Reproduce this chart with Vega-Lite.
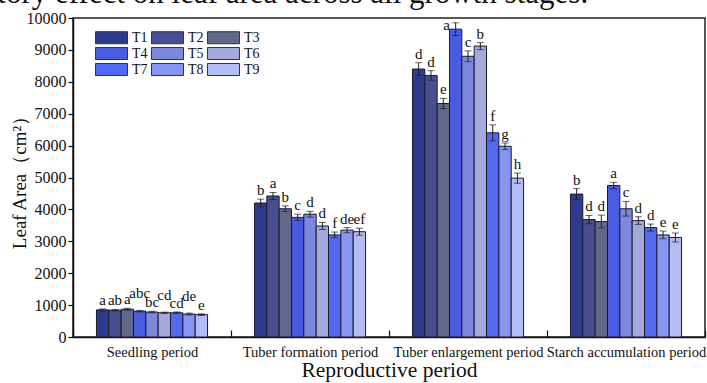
{
  "$schema": "https://vega.github.io/schema/vega-lite/v6.json",
  "width": 632,
  "height": 319,
  "autosize": {"type": "none"},
  "padding": {"left": 73, "top": 18, "right": 2, "bottom": 46},
  "background": "white",
  "title": {
    "text": "latory effect on leaf area across all growth stages.",
    "anchor": "start",
    "frame": "group",
    "baseline": "alphabetic",
    "offset": 6,
    "dy": 30,
    "dx": -98,
    "font": "Liberation Serif",
    "fontSize": 31,
    "fontWeight": "normal",
    "color": "#111"
  },
  "data": {
    "values": [
      {"period": "Seedling period", "treatment": "T1", "value": 850, "err": 30, "letter": "a"},
      {"period": "Seedling period", "treatment": "T2", "value": 840, "err": 25, "letter": "ab"},
      {"period": "Seedling period", "treatment": "T3", "value": 870, "err": 30, "letter": "a"},
      {"period": "Seedling period", "treatment": "T4", "value": 810, "err": 25, "letter": "abc"},
      {"period": "Seedling period", "treatment": "T5", "value": 780, "err": 25, "letter": "bc"},
      {"period": "Seedling period", "treatment": "T6", "value": 760, "err": 20, "letter": "cd"},
      {"period": "Seedling period", "treatment": "T7", "value": 760, "err": 25, "letter": "cd"},
      {"period": "Seedling period", "treatment": "T8", "value": 720, "err": 30, "letter": "de"},
      {"period": "Seedling period", "treatment": "T9", "value": 700, "err": 25, "letter": "e"},
      {"period": "Tuber formation period", "treatment": "T1", "value": 4200, "err": 120, "letter": "b"},
      {"period": "Tuber formation period", "treatment": "T2", "value": 4420, "err": 110, "letter": "a"},
      {"period": "Tuber formation period", "treatment": "T3", "value": 4020, "err": 90, "letter": "b"},
      {"period": "Tuber formation period", "treatment": "T4", "value": 3750, "err": 100, "letter": "c"},
      {"period": "Tuber formation period", "treatment": "T5", "value": 3850, "err": 90, "letter": "d"},
      {"period": "Tuber formation period", "treatment": "T6", "value": 3480, "err": 110, "letter": "d"},
      {"period": "Tuber formation period", "treatment": "T7", "value": 3200, "err": 90, "letter": "f"},
      {"period": "Tuber formation period", "treatment": "T8", "value": 3350, "err": 80, "letter": "de"},
      {"period": "Tuber formation period", "treatment": "T9", "value": 3300, "err": 110, "letter": "ef"},
      {"period": "Tuber enlargement period", "treatment": "T1", "value": 8400, "err": 200, "letter": "d"},
      {"period": "Tuber enlargement period", "treatment": "T2", "value": 8200, "err": 150, "letter": "d"},
      {"period": "Tuber enlargement period", "treatment": "T3", "value": 7320, "err": 160, "letter": "e"},
      {"period": "Tuber enlargement period", "treatment": "T4", "value": 9650, "err": 200, "letter": "a"},
      {"period": "Tuber enlargement period", "treatment": "T5", "value": 8800, "err": 170, "letter": "c"},
      {"period": "Tuber enlargement period", "treatment": "T6", "value": 9120, "err": 110, "letter": "b"},
      {"period": "Tuber enlargement period", "treatment": "T7", "value": 6400, "err": 250, "letter": "f"},
      {"period": "Tuber enlargement period", "treatment": "T8", "value": 5980, "err": 100, "letter": "g"},
      {"period": "Tuber enlargement period", "treatment": "T9", "value": 4980, "err": 160, "letter": "h"},
      {"period": "Starch accumulation period", "treatment": "T1", "value": 4480, "err": 170, "letter": "b"},
      {"period": "Starch accumulation period", "treatment": "T2", "value": 3680, "err": 130, "letter": "d"},
      {"period": "Starch accumulation period", "treatment": "T3", "value": 3620, "err": 200, "letter": "d"},
      {"period": "Starch accumulation period", "treatment": "T4", "value": 4750, "err": 100, "letter": "a"},
      {"period": "Starch accumulation period", "treatment": "T5", "value": 4020, "err": 230, "letter": "c"},
      {"period": "Starch accumulation period", "treatment": "T6", "value": 3650, "err": 120, "letter": "d"},
      {"period": "Starch accumulation period", "treatment": "T7", "value": 3430, "err": 110, "letter": "d"},
      {"period": "Starch accumulation period", "treatment": "T8", "value": 3200, "err": 120, "letter": "e"},
      {"period": "Starch accumulation period", "treatment": "T9", "value": 3120, "err": 140, "letter": "e"}
    ]
  },
  "transform": [
    {"calculate": "datum.value - datum.err", "as": "lo"},
    {"calculate": "datum.value + datum.err", "as": "hi"}
  ],
  "encoding": {
    "x": {
      "field": "period",
      "type": "nominal",
      "sort": ["Seedling period", "Tuber formation period", "Tuber enlargement period", "Starch accumulation period"],
      "scale": {"paddingInner": 0, "paddingOuter": 0},
      "axis": {
        "title": "Reproductive period",
        "titleFont": "Liberation Serif",
        "titleFontSize": 21.5,
        "titleFontWeight": "normal",
        "titleColor": "#111",
        "titlePadding": 1,
        "labelFont": "Liberation Serif",
        "labelFontSize": 14.5,
        "labelColor": "#111",
        "labelAngle": 0,
        "labelPadding": 15,
        "labelOverlap": false,
        "labelBound": false,
        "tickBand": "extent",
        "tickSize": -7,
        "tickColor": "#111",
        "tickWidth": 1.2,
        "domainColor": "#111",
        "domainWidth": 1.5
      }
    },
    "xOffset": {
      "field": "treatment",
      "type": "nominal",
      "scale": {
        "domain": ["_a", "T1", "T2", "T3", "T4", "T5", "T6", "T7", "T8", "T9", "_b"],
        "paddingInner": 0,
        "paddingOuter": 0.9
      }
    }
  },
  "layer": [
    {
      "mark": {"type": "bar", "stroke": "#1a1a2e", "strokeWidth": 1},
      "encoding": {
        "y": {
          "field": "value",
          "type": "quantitative",
          "scale": {"domain": [0, 10000]},
          "axis": {"title": "Leaf Area（cm²）", "values": [0, 1000, 2000, 3000, 4000, 5000, 6000, 7000, 8000, 9000, 10000], "format": "d", "labelOverlap": false}
        },
        "fill": {
          "field": "treatment",
          "type": "nominal",
          "scale": {
            "domain": ["T1", "T2", "T3", "T4", "T5", "T6", "T7", "T8", "T9"],
            "range": ["#2e3b8c", "#474f8f", "#62688a", "#4b5be0", "#7d87de", "#a4a9dc", "#5469f2", "#8796f2", "#b3bcf3"]
          },
          "legend": {
            "title": null,
            "orient": "none",
            "legendX": 31,
            "legendY": 12,
            "direction": "horizontal",
            "columns": 3,
            "columnPadding": 1,
            "rowPadding": -5,
            "symbolType": "M-2.29,-0.86H2.29V0.86H-2.29Z",
            "symbolSize": 196,
            "symbolStrokeColor": "#333",
            "symbolStrokeWidth": 1,
            "symbolOpacity": 1,
            "labelFont": "Liberation Serif",
            "labelFontSize": 14,
            "labelFontWeight": "normal",
            "labelColor": "#111",
            "labelOffset": 13
          }
        }
      }
    },
    {
      "mark": {"type": "rule", "color": "#222", "strokeWidth": 1},
      "encoding": {
        "y": {"field": "lo", "type": "quantitative", "axis": {"title": "Leaf Area（cm²）", "values": [0, 1000, 2000, 3000, 4000, 5000, 6000, 7000, 8000, 9000, 10000], "format": "d", "labelOverlap": false}},
        "y2": {"field": "hi"}
      }
    },
    {
      "mark": {"type": "tick", "color": "#222", "thickness": 1, "size": 7},
      "encoding": {"y": {"field": "lo", "type": "quantitative", "axis": {"title": "Leaf Area（cm²）", "values": [0, 1000, 2000, 3000, 4000, 5000, 6000, 7000, 8000, 9000, 10000], "format": "d", "labelOverlap": false}}}
    },
    {
      "mark": {"type": "tick", "color": "#222", "thickness": 1, "size": 7},
      "encoding": {"y": {"field": "hi", "type": "quantitative", "axis": {"title": "Leaf Area（cm²）", "values": [0, 1000, 2000, 3000, 4000, 5000, 6000, 7000, 8000, 9000, 10000], "format": "d", "labelOverlap": false}}}
    },
    {
      "transform": [
        {"filter": "!(datum.period === 'Seedling period' && indexof(['T4','T6','T8'], datum.treatment) >= 0) && !(datum.period === 'Tuber enlargement period' && datum.treatment === 'T4')"}
      ],
      "mark": {"type": "text", "font": "Liberation Serif", "fontSize": 15, "color": "#111", "baseline": "bottom", "dy": -1},
      "encoding": {
        "y": {"field": "hi", "type": "quantitative", "axis": {"title": "Leaf Area（cm²）", "values": [0, 1000, 2000, 3000, 4000, 5000, 6000, 7000, 8000, 9000, 10000], "format": "d", "labelOverlap": false}},
        "text": {"field": "letter"}
      }
    },
    {
      "transform": [
        {"filter": "datum.period === 'Seedling period' && indexof(['T4','T6','T8'], datum.treatment) >= 0"}
      ],
      "mark": {"type": "text", "font": "Liberation Serif", "fontSize": 15, "color": "#111", "baseline": "bottom", "dy": -9},
      "encoding": {
        "y": {"field": "hi", "type": "quantitative", "axis": {"title": "Leaf Area（cm²）", "values": [0, 1000, 2000, 3000, 4000, 5000, 6000, 7000, 8000, 9000, 10000], "format": "d", "labelOverlap": false}},
        "text": {"field": "letter"}
      }
    },
    {
      "transform": [
        {"filter": "datum.period === 'Tuber enlargement period' && datum.treatment === 'T4'"}
      ],
      "mark": {"type": "text", "font": "Liberation Serif", "fontSize": 15, "color": "#111", "baseline": "middle", "dx": -9, "dy": 2},
      "encoding": {
        "y": {"field": "hi", "type": "quantitative", "axis": {"title": "Leaf Area（cm²）", "values": [0, 1000, 2000, 3000, 4000, 5000, 6000, 7000, 8000, 9000, 10000], "format": "d", "labelOverlap": false}},
        "text": {"field": "letter"}
      }
    }
  ],
  "config": {
    "view": {"stroke": "#222", "strokeWidth": 1.5},
    "axisY": {
      "titleFont": "Liberation Serif",
      "titleFontSize": 19,
      "titleFontWeight": "normal",
      "titleColor": "#111",
      "titlePadding": -3,
      "labelFont": "Liberation Serif",
      "labelFontSize": 16,
      "labelColor": "#111",
      "labelPadding": 2,
      "labelOverlap": false,
      "grid": false,
      "tickSize": 5,
      "tickColor": "#111",
      "tickWidth": 1.2,
      "domainColor": "#111",
      "domainWidth": 1.5
    }
  }
}
